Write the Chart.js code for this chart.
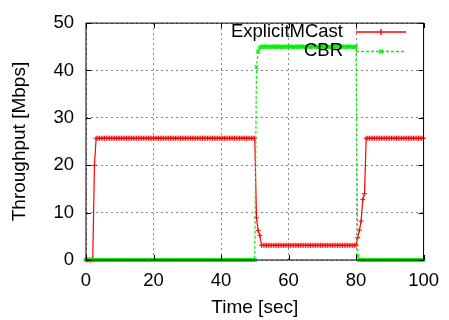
<!DOCTYPE html>
<html>
<head>
<meta charset="utf-8">
<title>Throughput</title>
<script src="https://cdn.jsdelivr.net/npm/chart.js"></script>
<style>
  body { margin: 0; background: #fff; }
</style>
</head>
<body>
<canvas id="chart" width="449" height="320"></canvas>
<script>
// time axis (sec), one row = 10 sec
var time = [
  0, 0.5, 1, 1.5, 2, 2.5, 3, 3.5, 4, 4.5, 5, 5.5, 6, 6.5, 7, 7.5, 8, 8.5, 9, 9.5,
  10, 10.5, 11, 11.5, 12, 12.5, 13, 13.5, 14, 14.5, 15, 15.5, 16, 16.5, 17, 17.5, 18, 18.5, 19, 19.5,
  20, 20.5, 21, 21.5, 22, 22.5, 23, 23.5, 24, 24.5, 25, 25.5, 26, 26.5, 27, 27.5, 28, 28.5, 29, 29.5,
  30, 30.5, 31, 31.5, 32, 32.5, 33, 33.5, 34, 34.5, 35, 35.5, 36, 36.5, 37, 37.5, 38, 38.5, 39, 39.5,
  40, 40.5, 41, 41.5, 42, 42.5, 43, 43.5, 44, 44.5, 45, 45.5, 46, 46.5, 47, 47.5, 48, 48.5, 49, 49.5,
  50, 50.5, 51, 51.5, 52, 52.5, 53, 53.5, 54, 54.5, 55, 55.5, 56, 56.5, 57, 57.5, 58, 58.5, 59, 59.5,
  60, 60.5, 61, 61.5, 62, 62.5, 63, 63.5, 64, 64.5, 65, 65.5, 66, 66.5, 67, 67.5, 68, 68.5, 69, 69.5,
  70, 70.5, 71, 71.5, 72, 72.5, 73, 73.5, 74, 74.5, 75, 75.5, 76, 76.5, 77, 77.5, 78, 78.5, 79, 79.5,
  80, 80.5, 81, 81.5, 82, 82.5, 83, 83.5, 84, 84.5, 85, 85.5, 86, 86.5, 87, 87.5, 88, 88.5, 89, 89.5,
  90, 90.5, 91, 91.5, 92, 92.5, 93, 93.5, 94, 94.5, 95, 95.5, 96, 96.5, 97, 97.5, 98, 98.5, 99, 99.5, 100
];

// Mbps
var explicitMCast = [
  0, 0, 0, 0, 0, 20, 25.7, 25.7, 25.7, 25.7, 25.7, 25.7, 25.7, 25.7, 25.7, 25.7, 25.7, 25.7, 25.7, 25.7,
  25.7, 25.7, 25.7, 25.7, 25.7, 25.7, 25.7, 25.7, 25.7, 25.7, 25.7, 25.7, 25.7, 25.7, 25.7, 25.7, 25.7, 25.7, 25.7, 25.7,
  25.7, 25.7, 25.7, 25.7, 25.7, 25.7, 25.7, 25.7, 25.7, 25.7, 25.7, 25.7, 25.7, 25.7, 25.7, 25.7, 25.7, 25.7, 25.7, 25.7,
  25.7, 25.7, 25.7, 25.7, 25.7, 25.7, 25.7, 25.7, 25.7, 25.7, 25.7, 25.7, 25.7, 25.7, 25.7, 25.7, 25.7, 25.7, 25.7, 25.7,
  25.7, 25.7, 25.7, 25.7, 25.7, 25.7, 25.7, 25.7, 25.7, 25.7, 25.7, 25.7, 25.7, 25.7, 25.7, 25.7, 25.7, 25.7, 25.7, 25.7,
  25.7, 8.9, 6.2, 5.2, 3.1, 3.1, 3.1, 3.1, 3.1, 3.1, 3.1, 3.1, 3.1, 3.1, 3.1, 3.1, 3.1, 3.1, 3.1, 3.1,
  3.1, 3.1, 3.1, 3.1, 3.1, 3.1, 3.1, 3.1, 3.1, 3.1, 3.1, 3.1, 3.1, 3.1, 3.1, 3.1, 3.1, 3.1, 3.1, 3.1,
  3.1, 3.1, 3.1, 3.1, 3.1, 3.1, 3.1, 3.1, 3.1, 3.1, 3.1, 3.1, 3.1, 3.1, 3.1, 3.1, 3.1, 3.1, 3.1, 3.1,
  3.1, 4.7, 6.3, 8.2, 12.8, 14.0, 25.7, 25.7, 25.7, 25.7, 25.7, 25.7, 25.7, 25.7, 25.7, 25.7, 25.7, 25.7, 25.7, 25.7,
  25.7, 25.7, 25.7, 25.7, 25.7, 25.7, 25.7, 25.7, 25.7, 25.7, 25.7, 25.7, 25.7, 25.7, 25.7, 25.7, 25.7, 25.7, 25.7, 25.7, 25.7
];

var cbr = [
  0, 0, 0, 0, 0, 0, 0, 0, 0, 0, 0, 0, 0, 0, 0, 0, 0, 0, 0, 0,
  0, 0, 0, 0, 0, 0, 0, 0, 0, 0, 0, 0, 0, 0, 0, 0, 0, 0, 0, 0,
  0, 0, 0, 0, 0, 0, 0, 0, 0, 0, 0, 0, 0, 0, 0, 0, 0, 0, 0, 0,
  0, 0, 0, 0, 0, 0, 0, 0, 0, 0, 0, 0, 0, 0, 0, 0, 0, 0, 0, 0,
  0, 0, 0, 0, 0, 0, 0, 0, 0, 0, 0, 0, 0, 0, 0, 0, 0, 0, 0, 0,
  0, 40.7, 44.0, 44.8, 45.0, 45.1, 44.9, 45.0, 45.1, 44.9, 45.0, 45.1, 44.9, 45.0, 45.1, 45.0, 44.9, 45.0, 45.1, 44.9,
  45.0, 45.1, 45.0, 44.9, 45.0, 45.1, 44.9, 45.0, 45.1, 45.0, 44.9, 45.1, 45.0, 44.9, 45.0, 45.1, 45.0, 44.9, 45.0, 45.1,
  44.9, 45.0, 45.1, 45.0, 44.9, 45.0, 45.1, 44.9, 45.0, 45.1, 45.0, 44.9, 45.0, 45.1, 44.9, 45.0, 45.1, 45.0, 44.9, 45.0,
  45.0, 0.8, 0, 0, 0, 0, 0, 0, 0, 0, 0, 0, 0, 0, 0, 0, 0, 0, 0, 0,
  0, 0, 0, 0, 0, 0, 0, 0, 0, 0, 0, 0, 0, 0, 0, 0, 0, 0, 0, 0, 0
];

var xTicks = [0, 20, 40, 60, 80, 100];
var yTicks = [0, 10, 20, 30, 40, 50];

var RED = '#ff0000';
var GREEN = '#00f000';
var FONT = "'Liberation Sans', Arial, sans-serif";

Chart.defaults.font.family = FONT;
Chart.defaults.color = '#000';

function pts(ys) {
  return time.map(function (t, i) { return { x: t, y: ys[i] }; });
}

// gnuplot style frame, inward ticks and legend
var gnuplotFrame = {
  id: 'gnuplotFrame',
  afterDraw: function (chart) {
    var ctx = chart.ctx, a = chart.chartArea;
    var xs = chart.scales.x, ys = chart.scales.y;
    ctx.save();
    ctx.strokeStyle = '#000';
    ctx.lineWidth = 1;
    ctx.strokeRect(a.left, a.top, a.right - a.left, a.bottom - a.top);
    ctx.beginPath();
    xTicks.forEach(function (v) {
      var px = Math.round(xs.getPixelForValue(v)) + 0.5;
      ctx.moveTo(px, a.bottom); ctx.lineTo(px, a.bottom - 5);
      ctx.moveTo(px, a.top); ctx.lineTo(px, a.top + 5);
    });
    yTicks.forEach(function (v) {
      var py = Math.round(ys.getPixelForValue(v)) + 0.5;
      ctx.moveTo(a.left, py); ctx.lineTo(a.left + 5, py);
      ctx.moveTo(a.right, py); ctx.lineTo(a.right - 5, py);
    });
    ctx.stroke();

    // legend
    ctx.font = '18.5px ' + FONT;
    ctx.fillStyle = '#000';
    ctx.textAlign = 'right';
    ctx.textBaseline = 'middle';
    ctx.fillText('ExplicitMCast', 343, 32);
    ctx.fillText('CBR', 343, 51);

    ctx.strokeStyle = RED;
    ctx.lineWidth = 1.4;
    ctx.beginPath();
    ctx.moveTo(356, 32); ctx.lineTo(406, 32);
    ctx.moveTo(381, 29); ctx.lineTo(381, 35);
    ctx.stroke();

    ctx.strokeStyle = GREEN;
    ctx.setLineDash([3, 2]);
    ctx.beginPath();
    ctx.moveTo(356, 51.5); ctx.lineTo(404, 51.5);
    ctx.stroke();
    ctx.setLineDash([]);
    ctx.beginPath();
    ctx.moveTo(379, 49.5); ctx.lineTo(383, 53.5);
    ctx.moveTo(383, 49.5); ctx.lineTo(379, 53.5);
    ctx.stroke();
    ctx.restore();
  }
};

new Chart(document.getElementById('chart'), {
  type: 'line',
  data: {
    datasets: [
      {
        label: 'ExplicitMCast',
        data: pts(explicitMCast),
        borderColor: RED,
        backgroundColor: RED,
        borderWidth: 1.2,
        pointStyle: 'cross',
        pointRadius: 2.5,
        pointBorderWidth: 1,
        pointBorderColor: RED,
        tension: 0,
        clip: false,
        order: 1
      },
      {
        label: 'CBR',
        data: pts(cbr),
        borderColor: GREEN,
        backgroundColor: GREEN,
        borderWidth: 1.2,
        borderDash: [3, 2],
        pointStyle: 'crossRot',
        pointRadius: 2.5,
        pointBorderWidth: 1.2,
        pointBorderColor: GREEN,
        tension: 0,
        clip: false,
        order: 0
      }
    ]
  },
  options: {
    responsive: false,
    animation: false,
    layout: { padding: { top: 17.5, right: 20, left: 0, bottom: 0 } },
    plugins: { legend: { display: false }, tooltip: { enabled: false } },
    scales: {
      x: {
        type: 'linear',
        min: 0, max: 100,
        afterBuildTicks: function (s) { s.ticks = xTicks.map(function (v) { return { value: v }; }); },
        ticks: { padding: 10, font: { size: 18.5 }, maxRotation: 0 },
        grid: { color: '#888', drawTicks: false, lineWidth: 1 },
        border: { display: false, dash: [2, 3] },
        title: { display: true, text: 'Time [sec]', font: { size: 19 }, padding: { top: 0, bottom: 1 } },
        afterFit: function (s) { s.height = 60; }
      },
      y: {
        min: 0, max: 50,
        afterBuildTicks: function (s) { s.ticks = yTicks.map(function (v) { return { value: v }; }); },
        ticks: { padding: 12, font: { size: 18.5 } },
        grid: { color: '#888', drawTicks: false, lineWidth: 1 },
        border: { display: false, dash: [2, 3] },
        title: { display: true, text: 'Throughput [Mbps]', font: { size: 19 }, padding: { top: 8.6, bottom: 0 } },
        afterFit: function (s) { s.width = 86; }
      }
    }
  },
  plugins: [gnuplotFrame]
});
</script>
</body>
</html>
